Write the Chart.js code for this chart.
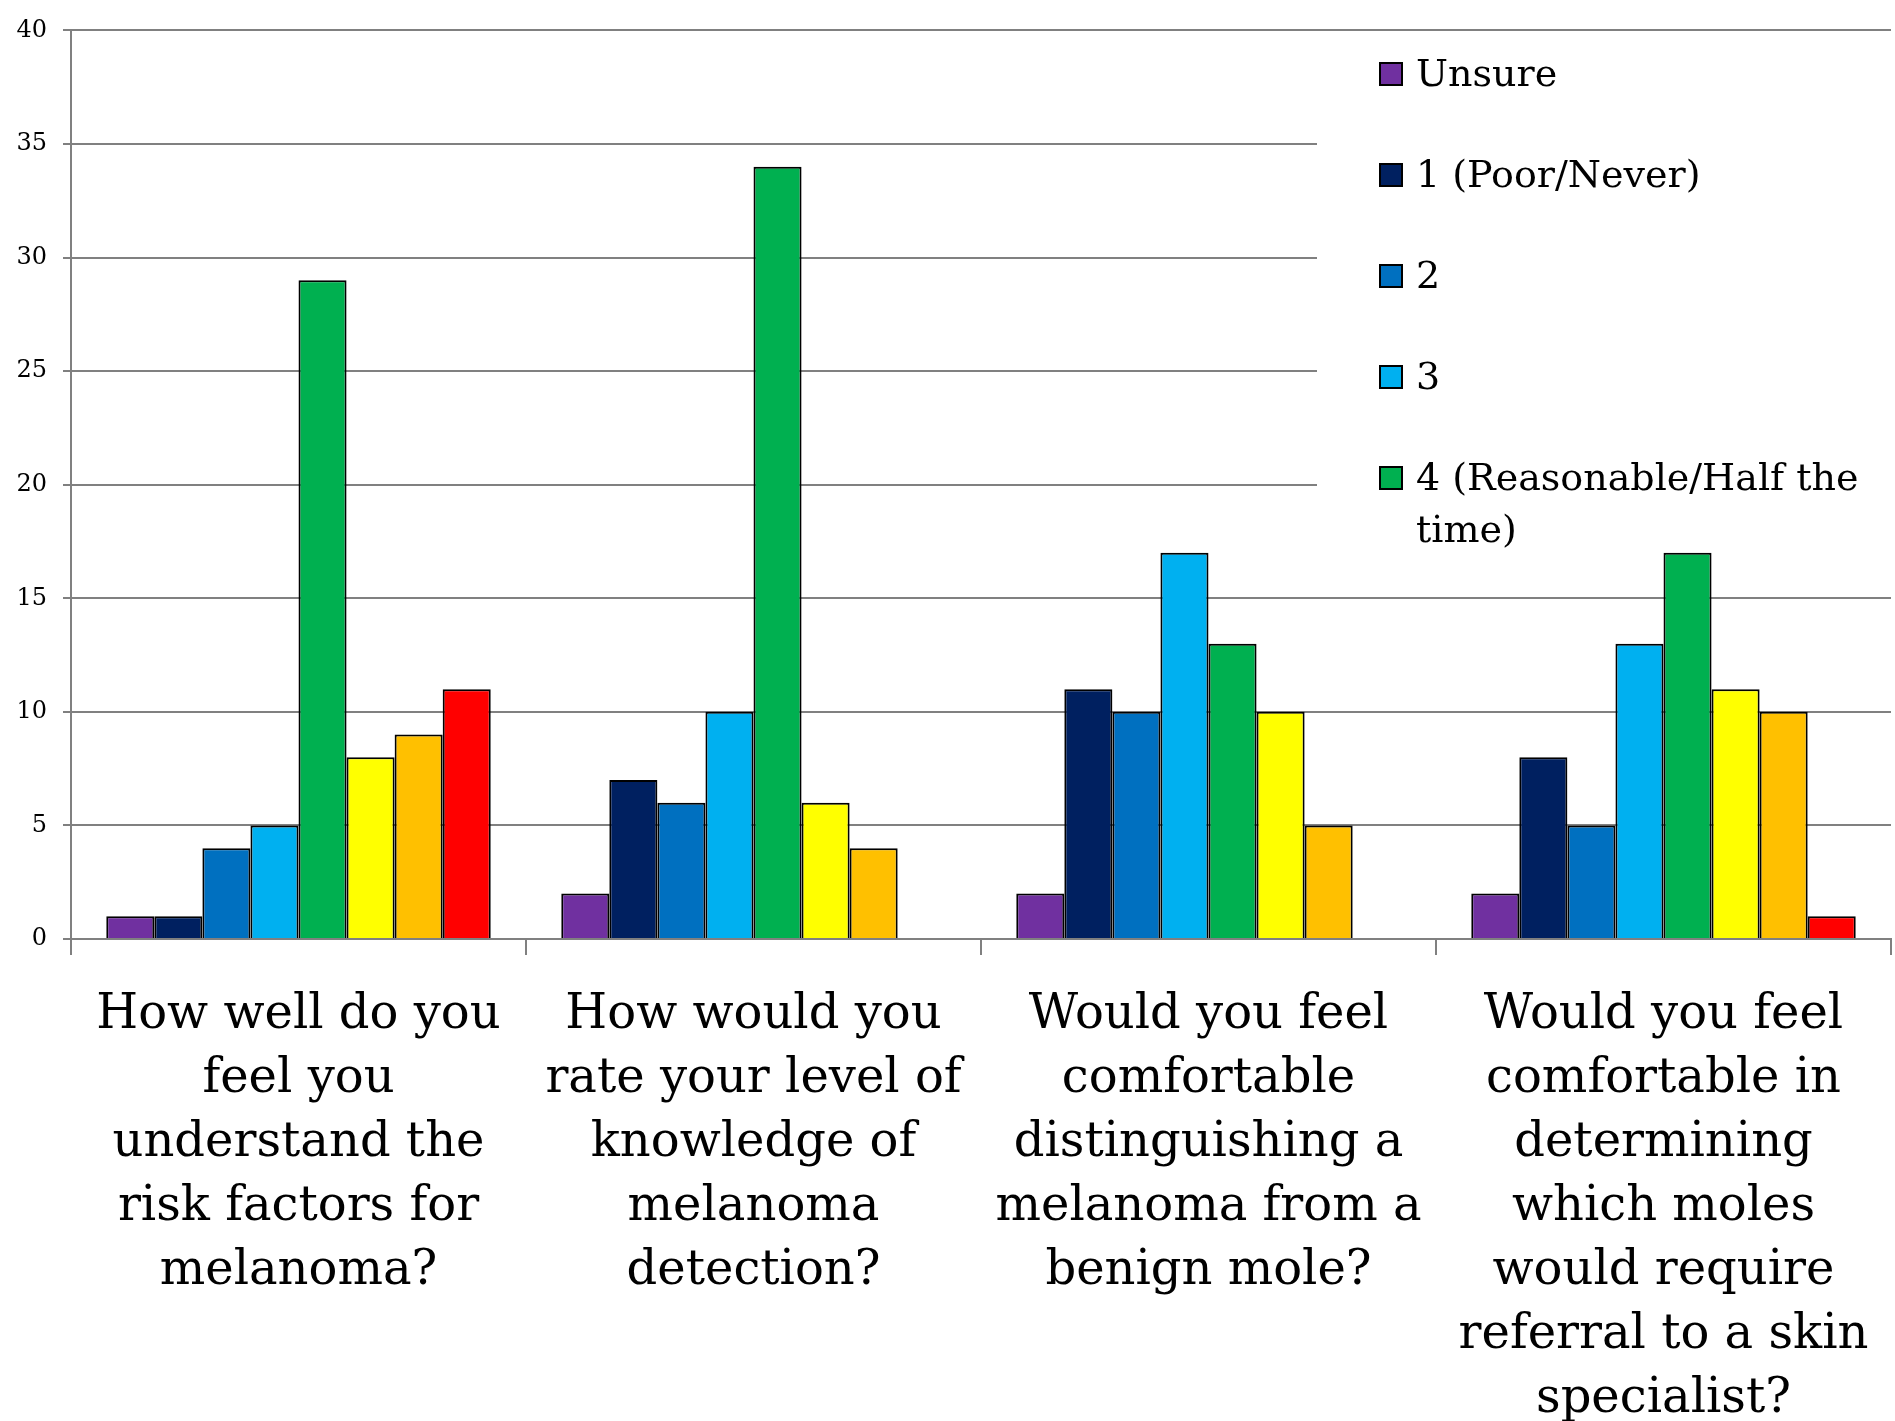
<!DOCTYPE html>
<html>
<head>
<meta charset="utf-8">
<script src="https://cdn.jsdelivr.net/npm/chart.js@4.4.0/dist/chart.umd.min.js"></script>
<style>
  html, body { margin: 0; padding: 0; background: #ffffff; }
  #wrap { width: 1895px; height: 1421px; }
</style>
</head>
<body>
<div id="wrap"><canvas id="c" width="1895" height="1421"></canvas></div>
<script>
// Survey questions (x categories), split into display lines
const questions = [
  ['How well do you', 'feel you', 'understand the', 'risk factors for', 'melanoma?'],
  ['How would you', 'rate your level of', 'knowledge of', 'melanoma', 'detection?'],
  ['Would you feel', 'comfortable', 'distinguishing a', 'melanoma from a', 'benign mole?'],
  ['Would you feel', 'comfortable in', 'determining', 'which moles', 'would require', 'referral to a skin', 'specialist?']
];

// Response categories
const responseNames = ['Unsure', '1 (Poor/Never)', '2', '3', '4 (Reasonable/Half the time)', '5', '6', '7'];

// Number of respondents per response, one value per question
const unsure   = [1, 2, 2, 2];
const rating1  = [1, 7, 11, 8];
const rating2  = [4, 6, 10, 5];
const rating3  = [5, 10, 17, 13];
const rating4  = [29, 34, 13, 17];
const rating5  = [8, 6, 10, 11];
const rating6  = [9, 4, 5, 10];
const rating7  = [11, 0, 0, 1];

// Y axis range and step
const yMin = 0, yMax = 40, yStep = 5;

const seriesValues = [unsure, rating1, rating2, rating3, rating4, rating5, rating6, rating7];
const seriesColors = ['#7030A0', '#002060', '#0070C0', '#00B0F0', '#00B050', '#FFFF00', '#FFC000', '#FF0000'];
const legendCount = 5; // entries listed in the key

const FONT = "'DejaVu Serif', 'Liberation Serif', serif";

// Key drawn over the upper right of the plot on a white panel
const keyPanel = {
  id: 'keyPanel',
  beforeDatasetsDraw(chart) {
    const { ctx, chartArea } = chart;
    const y = chart.scales.y;
    ctx.save();
    ctx.fillStyle = '#ffffff';
    const top = y.getPixelForValue(yMax) + 3;
    const bottom = y.getPixelForValue(17.6);
    ctx.fillRect(1317, top, chartArea.right + 10 - 1317, bottom - top);
    ctx.restore();
  },
  afterDatasetsDraw(chart) {
    const { ctx } = chart;
    ctx.save();
    ctx.font = "38px " + FONT;
    ctx.textBaseline = 'middle';
    ctx.textAlign = 'left';
    const sx = 1380, tx = 1416, size = 22, step = 101, lineGap = 52;
    for (let i = 0; i < legendCount; i++) {
      const ds = chart.data.datasets[i];
      const top = 63 + i * step;
      ctx.fillStyle = ds.backgroundColor;
      ctx.fillRect(sx, top, size, size);
      ctx.lineWidth = 2;
      ctx.strokeStyle = '#000000';
      ctx.strokeRect(sx, top, size, size);
      ctx.fillStyle = '#000000';
      const lines = i === 4 ? ['4 (Reasonable/Half the', 'time)'] : [ds.label];
      lines.forEach((t, k) => ctx.fillText(t, tx, top + size / 2 + 2 + k * lineGap));
    }
    ctx.restore();
  }
};

const datasets = responseNames.map((name, i) => ({
  label: name,
  data: seriesValues[i],
  backgroundColor: seriesColors[i],
  borderColor: '#000000',
  borderWidth: 2,
  borderSkipped: 'bottom',
  barPercentage: 1.0,
  categoryPercentage: 0.845
}));

new Chart(document.getElementById('c'), {
  type: 'bar',
  data: { labels: questions, datasets },
  plugins: [keyPanel],
  options: {
    responsive: false,
    animation: false,
    devicePixelRatio: 1,
    layout: { padding: { top: 18, right: 4, left: 0, bottom: 0 } },
    plugins: {
      legend: { display: false },
      tooltip: { enabled: false }
    },
    scales: {
      x: {
        grid: {
          offset: true,
          drawOnChartArea: false,
          drawTicks: true,
          tickLength: 16,
          color: '#808080',
          lineWidth: 2
        },
        border: { color: '#808080', width: 2 },
        ticks: {
          font: { family: FONT, size: 48, lineHeight: 1.335 },
          color: '#000000',
          maxRotation: 0,
          minRotation: 0,
          autoSkip: false,
          padding: 28
        },
        afterFit(scale) {
          scale.height = 482;
          scale.paddingLeft = 0;
          scale.paddingRight = 0;
        }
      },
      y: {
        min: yMin,
        max: yMax,
        ticks: {
          stepSize: yStep,
          font: { family: FONT, size: 24 },
          color: '#000000',
          padding: 16
        },
        grid: {
          color: '#808080',
          lineWidth: 2,
          tickLength: 8
        },
        border: { color: '#808080', width: 2 },
        afterFit(scale) { scale.width = 71; }
      }
    }
  }
});
</script>
</body>
</html>
